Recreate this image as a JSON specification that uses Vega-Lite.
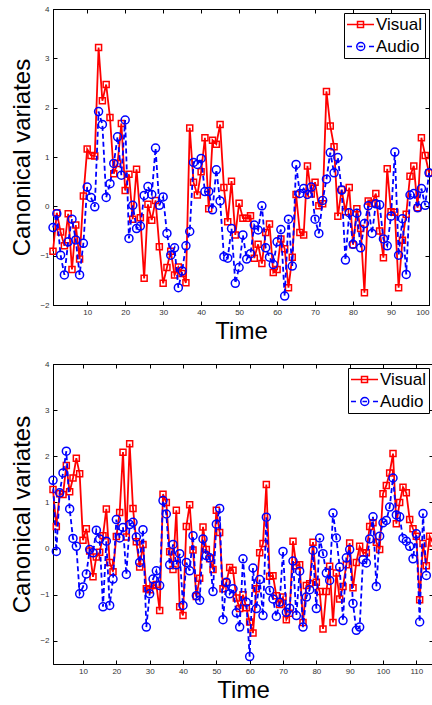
{
"$schema":"https://vega.github.io/schema/vega-lite/v6.json",
"padding":{"left":10,"top":4,"right":0,"bottom":0},
"spacing":15,
"resolve":{"scale":{"color":"independent","shape":"independent"}},
"config":{
 "view":{"stroke":"black","strokeWidth":1},
 "axis":{"grid":false,"domainColor":"black","tickColor":"black","tickSize":-4,"labelFont":"Liberation Sans","labelFontSize":8,"labelColor":"#333333","titleFont":"Liberation Sans","titleFontSize":24,"titleFontWeight":"normal","titleColor":"black"},
 "legend":{"orient":"top-right","offset":4,"fillColor":"white","strokeColor":"black","padding":3,"rowPadding":4,"labelFont":"Liberation Sans","labelFontSize":17,"labelColor":"black","symbolSize":36,"symbolStrokeWidth":1.5,"symbolOpacity":1,"labelOffset":12}
},
"datasets":{
"top":[
{"series":"Visual","time":1,"value":-0.91},{"series":"Visual","time":2,"value":-0.13},{"series":"Visual","time":3,"value":-0.52},{"series":"Visual","time":4,"value":-0.80},{"series":"Visual","time":5,"value":-0.15},{"series":"Visual","time":6,"value":-1.28},{"series":"Visual","time":7,"value":-0.38},{"series":"Visual","time":8,"value":-1.07},{"series":"Visual","time":9,"value":0.21},{"series":"Visual","time":10,"value":1.16},
{"series":"Visual","time":11,"value":1.03},{"series":"Visual","time":12,"value":1.02},{"series":"Visual","time":13,"value":3.22},{"series":"Visual","time":14,"value":2.14},{"series":"Visual","time":15,"value":2.47},{"series":"Visual","time":16,"value":1.80},{"series":"Visual","time":17,"value":0.66},{"series":"Visual","time":18,"value":0.87},{"series":"Visual","time":19,"value":1.68},{"series":"Visual","time":20,"value":0.32},
{"series":"Visual","time":21,"value":0.65},{"series":"Visual","time":22,"value":-0.26},{"series":"Visual","time":23,"value":0.75},{"series":"Visual","time":24,"value":-0.23},{"series":"Visual","time":25,"value":-1.46},{"series":"Visual","time":26,"value":0.04},{"series":"Visual","time":27,"value":-0.28},{"series":"Visual","time":28,"value":0.12},{"series":"Visual","time":29,"value":-0.82},{"series":"Visual","time":30,"value":-1.56},
{"series":"Visual","time":31,"value":-1.24},{"series":"Visual","time":32,"value":-0.91},{"series":"Visual","time":33,"value":-1.39},{"series":"Visual","time":34,"value":-1.23},{"series":"Visual","time":35,"value":-1.36},{"series":"Visual","time":36,"value":-1.55},{"series":"Visual","time":37,"value":1.59},{"series":"Visual","time":38,"value":0.49},{"series":"Visual","time":39,"value":0.23},{"series":"Visual","time":40,"value":0.70},
{"series":"Visual","time":41,"value":1.39},{"series":"Visual","time":42,"value":-0.05},{"series":"Visual","time":43,"value":1.34},{"series":"Visual","time":44,"value":1.26},{"series":"Visual","time":45,"value":1.66},{"series":"Visual","time":46,"value":0.38},{"series":"Visual","time":47,"value":-0.31},{"series":"Visual","time":48,"value":0.51},{"series":"Visual","time":49,"value":-0.58},{"series":"Visual","time":50,"value":0.06},
{"series":"Visual","time":51,"value":-0.24},{"series":"Visual","time":52,"value":-0.24},{"series":"Visual","time":53,"value":-0.19},{"series":"Visual","time":54,"value":-1.05},{"series":"Visual","time":55,"value":-0.77},{"series":"Visual","time":56,"value":-1.16},{"series":"Visual","time":57,"value":-0.53},{"series":"Visual","time":58,"value":-0.36},{"series":"Visual","time":59,"value":-1.34},{"series":"Visual","time":60,"value":-1.28},
{"series":"Visual","time":61,"value":-0.66},{"series":"Visual","time":62,"value":-0.86},{"series":"Visual","time":63,"value":-1.65},{"series":"Visual","time":64,"value":-1.03},{"series":"Visual","time":65,"value":0.24},{"series":"Visual","time":66,"value":-0.53},{"series":"Visual","time":67,"value":-0.58},{"series":"Visual","time":68,"value":0.82},{"series":"Visual","time":69,"value":0.25},{"series":"Visual","time":70,"value":0.49},
{"series":"Visual","time":71,"value":0.01},{"series":"Visual","time":72,"value":0.05},{"series":"Visual","time":73,"value":2.33},{"series":"Visual","time":74,"value":1.63},{"series":"Visual","time":75,"value":1.21},{"series":"Visual","time":76,"value":-0.20},{"series":"Visual","time":77,"value":0.34},{"series":"Visual","time":78,"value":-0.11},{"series":"Visual","time":79,"value":0.38},{"series":"Visual","time":80,"value":-0.78},
{"series":"Visual","time":81,"value":-0.05},{"series":"Visual","time":82,"value":-0.45},{"series":"Visual","time":83,"value":-1.75},{"series":"Visual","time":84,"value":0.11},{"series":"Visual","time":85,"value":0.06},{"series":"Visual","time":86,"value":0.26},{"series":"Visual","time":87,"value":-0.50},{"series":"Visual","time":88,"value":-1.04},{"series":"Visual","time":89,"value":0.76},{"series":"Visual","time":90,"value":-0.11},
{"series":"Visual","time":91,"value":-0.12},{"series":"Visual","time":92,"value":-1.65},{"series":"Visual","time":93,"value":-0.69},{"series":"Visual","time":94,"value":-0.16},{"series":"Visual","time":95,"value":0.61},{"series":"Visual","time":96,"value":0.82},{"series":"Visual","time":97,"value":-0.03},{"series":"Visual","time":98,"value":1.39},{"series":"Visual","time":99,"value":1.03},{"series":"Visual","time":100,"value":0.68},
{"series":"Audio","time":1,"value":-0.43},{"series":"Audio","time":2,"value":-0.15},{"series":"Audio","time":3,"value":-0.99},{"series":"Audio","time":4,"value":-1.39},{"series":"Audio","time":5,"value":-0.72},{"series":"Audio","time":6,"value":-0.26},{"series":"Audio","time":7,"value":-0.68},{"series":"Audio","time":8,"value":-1.39},{"series":"Audio","time":9,"value":-0.75},{"series":"Audio","time":10,"value":0.39},
{"series":"Audio","time":11,"value":0.18},{"series":"Audio","time":12,"value":-0.01},{"series":"Audio","time":13,"value":1.92},{"series":"Audio","time":14,"value":1.66},{"series":"Audio","time":15,"value":0.18},{"series":"Audio","time":16,"value":0.46},{"series":"Audio","time":17,"value":0.87},{"series":"Audio","time":18,"value":1.41},{"series":"Audio","time":19,"value":0.63},{"series":"Audio","time":20,"value":1.75},
{"series":"Audio","time":21,"value":-0.65},{"series":"Audio","time":22,"value":0.02},{"series":"Audio","time":23,"value":-0.45},{"series":"Audio","time":24,"value":-0.40},{"series":"Audio","time":25,"value":0.22},{"series":"Audio","time":26,"value":0.40},{"series":"Audio","time":27,"value":0.24},{"series":"Audio","time":28,"value":1.18},{"series":"Audio","time":29,"value":0.02},{"series":"Audio","time":30,"value":0.19},
{"series":"Audio","time":31,"value":-0.55},{"series":"Audio","time":32,"value":-0.99},{"series":"Audio","time":33,"value":-0.84},{"series":"Audio","time":34,"value":-1.65},{"series":"Audio","time":35,"value":-1.31},{"series":"Audio","time":36,"value":-0.80},{"series":"Audio","time":37,"value":-0.51},{"series":"Audio","time":38,"value":0.89},{"series":"Audio","time":39,"value":0.85},{"series":"Audio","time":40,"value":0.97},
{"series":"Audio","time":41,"value":0.30},{"series":"Audio","time":42,"value":0.30},{"series":"Audio","time":43,"value":-0.07},{"series":"Audio","time":44,"value":0.74},{"series":"Audio","time":45,"value":0.11},{"series":"Audio","time":46,"value":-1.02},{"series":"Audio","time":47,"value":-1.05},{"series":"Audio","time":48,"value":-0.45},{"series":"Audio","time":49,"value":-1.56},{"series":"Audio","time":50,"value":-1.24},
{"series":"Audio","time":51,"value":-0.58},{"series":"Audio","time":52,"value":-1.07},{"series":"Audio","time":53,"value":-0.96},{"series":"Audio","time":54,"value":-0.38},{"series":"Audio","time":55,"value":-0.48},{"series":"Audio","time":56,"value":0.01},{"series":"Audio","time":57,"value":-0.84},{"series":"Audio","time":58,"value":-1.03},{"series":"Audio","time":59,"value":-1.18},{"series":"Audio","time":60,"value":-0.72},
{"series":"Audio","time":61,"value":-0.47},{"series":"Audio","time":62,"value":-1.82},{"series":"Audio","time":63,"value":-0.26},{"series":"Audio","time":64,"value":-1.21},{"series":"Audio","time":65,"value":0.85},{"series":"Audio","time":66,"value":0.26},{"series":"Audio","time":67,"value":0.36},{"series":"Audio","time":68,"value":0.24},{"series":"Audio","time":69,"value":0.39},{"series":"Audio","time":70,"value":-0.26},
{"series":"Audio","time":71,"value":-0.55},{"series":"Audio","time":72,"value":0.12},{"series":"Audio","time":73,"value":0.55},{"series":"Audio","time":74,"value":1.09},{"series":"Audio","time":75,"value":0.68},{"series":"Audio","time":76,"value":0.99},{"series":"Audio","time":77,"value":0.33},{"series":"Audio","time":78,"value":-1.09},{"series":"Audio","time":79,"value":-0.13},{"series":"Audio","time":80,"value":-0.77},
{"series":"Audio","time":81,"value":-0.14},{"series":"Audio","time":82,"value":-0.84},{"series":"Audio","time":83,"value":-0.35},{"series":"Audio","time":84,"value":0.01},{"series":"Audio","time":85,"value":-0.55},{"series":"Audio","time":86,"value":0.05},{"series":"Audio","time":87,"value":0.03},{"series":"Audio","time":88,"value":-0.66},{"series":"Audio","time":89,"value":-0.80},{"series":"Audio","time":90,"value":-0.20},
{"series":"Audio","time":91,"value":1.10},{"series":"Audio","time":92,"value":-0.99},{"series":"Audio","time":93,"value":-0.25},{"series":"Audio","time":94,"value":-1.38},{"series":"Audio","time":95,"value":0.23},{"series":"Audio","time":96,"value":0.26},{"series":"Audio","time":97,"value":-0.03},{"series":"Audio","time":98,"value":0.36},{"series":"Audio","time":99,"value":0.02},{"series":"Audio","time":100,"value":0.68}
],
"bottom":[
{"series":"Visual","time":1,"value":1.28},{"series":"Visual","time":2,"value":0.48},{"series":"Visual","time":3,"value":1.19},{"series":"Visual","time":4,"value":1.17},{"series":"Visual","time":5,"value":1.80},{"series":"Visual","time":6,"value":1.23},{"series":"Visual","time":7,"value":1.53},{"series":"Visual","time":8,"value":1.96},{"series":"Visual","time":9,"value":1.62},{"series":"Visual","time":10,"value":0.18},
{"series":"Visual","time":11,"value":0.43},{"series":"Visual","time":12,"value":-0.05},{"series":"Visual","time":13,"value":-0.61},{"series":"Visual","time":14,"value":-0.18},{"series":"Visual","time":15,"value":-0.08},{"series":"Visual","time":16,"value":0.28},{"series":"Visual","time":17,"value":0.86},{"series":"Visual","time":18,"value":-0.30},{"series":"Visual","time":19,"value":-0.50},{"series":"Visual","time":20,"value":0.26},
{"series":"Visual","time":21,"value":0.78},{"series":"Visual","time":22,"value":2.09},{"series":"Visual","time":23,"value":0.25},{"series":"Visual","time":24,"value":2.27},{"series":"Visual","time":25,"value":0.87},{"series":"Visual","time":26,"value":0.15},{"series":"Visual","time":27,"value":-0.40},{"series":"Visual","time":28,"value":0.09},{"series":"Visual","time":29,"value":-0.87},{"series":"Visual","time":30,"value":-0.89},
{"series":"Visual","time":31,"value":-0.80},{"series":"Visual","time":32,"value":-0.78},{"series":"Visual","time":33,"value":-1.34},{"series":"Visual","time":34,"value":1.18},{"series":"Visual","time":35,"value":1.00},{"series":"Visual","time":36,"value":-0.07},{"series":"Visual","time":37,"value":-0.45},{"series":"Visual","time":38,"value":0.83},{"series":"Visual","time":39,"value":-1.26},{"series":"Visual","time":40,"value":-1.45},
{"series":"Visual","time":41,"value":0.48},{"series":"Visual","time":42,"value":0.95},{"series":"Visual","time":43,"value":-0.03},{"series":"Visual","time":44,"value":-1.04},{"series":"Visual","time":45,"value":-0.64},{"series":"Visual","time":46,"value":0.47},{"series":"Visual","time":47,"value":-0.02},{"series":"Visual","time":48,"value":-0.22},{"series":"Visual","time":49,"value":-0.45},{"series":"Visual","time":50,"value":0.83},
{"series":"Visual","time":51,"value":0.35},{"series":"Visual","time":52,"value":-0.87},{"series":"Visual","time":53,"value":-0.73},{"series":"Visual","time":54,"value":-0.41},{"series":"Visual","time":55,"value":-0.47},{"series":"Visual","time":56,"value":-1.07},{"series":"Visual","time":57,"value":-1.30},{"series":"Visual","time":58,"value":-1.00},{"series":"Visual","time":59,"value":-1.28},{"series":"Visual","time":60,"value":-1.59},
{"series":"Visual","time":61,"value":-1.83},{"series":"Visual","time":62,"value":-0.87},{"series":"Visual","time":63,"value":-0.09},{"series":"Visual","time":64,"value":0.11},{"series":"Visual","time":65,"value":1.39},{"series":"Visual","time":66,"value":-0.60},{"series":"Visual","time":67,"value":-0.59},{"series":"Visual","time":68,"value":-1.02},{"series":"Visual","time":69,"value":-1.21},{"series":"Visual","time":70,"value":-1.05},
{"series":"Visual","time":71,"value":-1.54},{"series":"Visual","time":72,"value":-1.40},{"series":"Visual","time":73,"value":0.16},{"series":"Visual","time":74,"value":-0.37},{"series":"Visual","time":75,"value":-0.35},{"series":"Visual","time":76,"value":-1.60},{"series":"Visual","time":77,"value":-0.80},{"series":"Visual","time":78,"value":-0.76},{"series":"Visual","time":79,"value":0.14},{"series":"Visual","time":80,"value":-0.73},
{"series":"Visual","time":81,"value":-0.93},{"series":"Visual","time":82,"value":-1.74},{"series":"Visual","time":83,"value":-0.93},{"series":"Visual","time":84,"value":-0.38},{"series":"Visual","time":85,"value":-1.60},{"series":"Visual","time":86,"value":-0.53},{"series":"Visual","time":87,"value":-1.09},{"series":"Visual","time":88,"value":-0.82},{"series":"Visual","time":89,"value":-0.35},{"series":"Visual","time":90,"value":0.12},
{"series":"Visual","time":91,"value":-0.85},{"series":"Visual","time":92,"value":-0.30},{"series":"Visual","time":93,"value":0.05},{"series":"Visual","time":94,"value":-0.09},{"series":"Visual","time":95,"value":-0.09},{"series":"Visual","time":96,"value":0.48},{"series":"Visual","time":97,"value":0.56},{"series":"Visual","time":98,"value":0.14},{"series":"Visual","time":99,"value":-0.02},{"series":"Visual","time":100,"value":1.19},
{"series":"Visual","time":101,"value":1.37},{"series":"Visual","time":102,"value":1.64},{"series":"Visual","time":103,"value":2.06},{"series":"Visual","time":104,"value":0.54},{"series":"Visual","time":105,"value":1.00},{"series":"Visual","time":106,"value":1.33},{"series":"Visual","time":107,"value":1.21},{"series":"Visual","time":108,"value":0.63},{"series":"Visual","time":109,"value":0.43},{"series":"Visual","time":110,"value":0.27},
{"series":"Visual","time":111,"value":-1.11},{"series":"Visual","time":112,"value":0.11},{"series":"Visual","time":113,"value":-0.37},{"series":"Visual","time":114,"value":0.27},{"series":"Visual","time":115,"value":0.12},
{"series":"Audio","time":1,"value":1.48},{"series":"Audio","time":2,"value":-0.06},{"series":"Audio","time":3,"value":1.21},{"series":"Audio","time":4,"value":1.64},{"series":"Audio","time":5,"value":2.11},{"series":"Audio","time":6,"value":0.86},{"series":"Audio","time":7,"value":0.22},{"series":"Audio","time":8,"value":0.05},{"series":"Audio","time":9,"value":-0.98},{"series":"Audio","time":10,"value":-0.83},
{"series":"Audio","time":11,"value":-0.55},{"series":"Audio","time":12,"value":-0.02},{"series":"Audio","time":13,"value":-0.09},{"series":"Audio","time":14,"value":0.40},{"series":"Audio","time":15,"value":0.21},{"series":"Audio","time":16,"value":-1.26},{"series":"Audio","time":17,"value":0.16},{"series":"Audio","time":18,"value":-1.23},{"series":"Audio","time":19,"value":-0.66},{"series":"Audio","time":20,"value":0.63},
{"series":"Audio","time":21,"value":0.23},{"series":"Audio","time":22,"value":0.46},{"series":"Audio","time":23,"value":-0.56},{"series":"Audio","time":24,"value":0.52},{"series":"Audio","time":25,"value":0.57},{"series":"Audio","time":26,"value":0.25},{"series":"Audio","time":27,"value":-0.30},{"series":"Audio","time":28,"value":0.41},{"series":"Audio","time":29,"value":-1.70},{"series":"Audio","time":30,"value":-0.98},
{"series":"Audio","time":31,"value":-0.66},{"series":"Audio","time":32,"value":-0.48},{"series":"Audio","time":33,"value":-0.80},{"series":"Audio","time":34,"value":1.04},{"series":"Audio","time":35,"value":0.75},{"series":"Audio","time":36,"value":-0.35},{"series":"Audio","time":37,"value":0.09},{"series":"Audio","time":38,"value":-0.35},{"series":"Audio","time":39,"value":-0.11},{"series":"Audio","time":40,"value":-1.23},
{"series":"Audio","time":41,"value":-0.30},{"series":"Audio","time":42,"value":-0.48},{"series":"Audio","time":43,"value":0.28},{"series":"Audio","time":44,"value":-1.02},{"series":"Audio","time":45,"value":-1.12},{"series":"Audio","time":46,"value":0.21},{"series":"Audio","time":47,"value":-0.15},{"series":"Audio","time":48,"value":-0.20},{"series":"Audio","time":49,"value":-0.93},{"series":"Audio","time":50,"value":0.53},
{"series":"Audio","time":51,"value":0.87},{"series":"Audio","time":52,"value":-1.54},{"series":"Audio","time":53,"value":-0.73},{"series":"Audio","time":54,"value":-0.98},{"series":"Audio","time":55,"value":-0.87},{"series":"Audio","time":56,"value":-1.39},{"series":"Audio","time":57,"value":-1.70},{"series":"Audio","time":58,"value":-0.22},{"series":"Audio","time":59,"value":-1.16},{"series":"Audio","time":60,"value":-2.34},
{"series":"Audio","time":61,"value":-0.42},{"series":"Audio","time":62,"value":-1.30},{"series":"Audio","time":63,"value":-0.67},{"series":"Audio","time":64,"value":-1.45},{"series":"Audio","time":65,"value":0.68},{"series":"Audio","time":66,"value":-0.91},{"series":"Audio","time":67,"value":-1.09},{"series":"Audio","time":68,"value":-1.47},{"series":"Audio","time":69,"value":-1.16},{"series":"Audio","time":70,"value":-0.06},
{"series":"Audio","time":71,"value":-1.38},{"series":"Audio","time":72,"value":-1.29},{"series":"Audio","time":73,"value":-0.27},{"series":"Audio","time":74,"value":-1.45},{"series":"Audio","time":75,"value":-0.49},{"series":"Audio","time":76,"value":-1.70},{"series":"Audio","time":77,"value":-1.05},{"series":"Audio","time":78,"value":-0.89},{"series":"Audio","time":79,"value":-0.04},{"series":"Audio","time":80,"value":-1.30},
{"series":"Audio","time":81,"value":0.23},{"series":"Audio","time":82,"value":-0.11},{"series":"Audio","time":83,"value":-0.53},{"series":"Audio","time":84,"value":-0.69},{"series":"Audio","time":85,"value":0.77},{"series":"Audio","time":86,"value":0.23},{"series":"Audio","time":87,"value":-0.40},{"series":"Audio","time":88,"value":-1.56},{"series":"Audio","time":89,"value":-0.20},{"series":"Audio","time":90,"value":-0.02},
{"series":"Audio","time":91,"value":-1.19},{"series":"Audio","time":92,"value":-1.77},{"series":"Audio","time":93,"value":-1.70},{"series":"Audio","time":94,"value":-0.24},{"series":"Audio","time":95,"value":-0.31},{"series":"Audio","time":96,"value":0.21},{"series":"Audio","time":97,"value":0.69},{"series":"Audio","time":98,"value":-0.82},{"series":"Audio","time":99,"value":0.27},{"series":"Audio","time":100,"value":0.56},
{"series":"Audio","time":101,"value":0.61},{"series":"Audio","time":102,"value":0.90},{"series":"Audio","time":103,"value":1.53},{"series":"Audio","time":104,"value":0.73},{"series":"Audio","time":105,"value":0.69},{"series":"Audio","time":106,"value":0.22},{"series":"Audio","time":107,"value":0.16},{"series":"Audio","time":108,"value":0.05},{"series":"Audio","time":109,"value":-0.22},{"series":"Audio","time":110,"value":0.32},
{"series":"Audio","time":111,"value":-1.59},{"series":"Audio","time":112,"value":0.76},{"series":"Audio","time":113,"value":-0.58}
]
},
"vconcat":[
{
 "width":376,"height":296,
 "data":{"name":"top"},
 "resolve":{"axis":{"x":"independent","y":"independent"}},
 "encoding":{
  "x":{"field":"time","type":"quantitative","scale":{"domain":[1,100],"nice":false,"zero":false}},
  "y":{"field":"value","type":"quantitative","scale":{"domain":[-2,4],"nice":false,"zero":false}},
  "color":{"field":"series","type":"nominal","scale":{"domain":["Visual","Audio"],"range":["#ff0000","#0000ff"]},"legend":{"title":null}}
 },
 "layer":[
  {"transform":[{"filter":"datum.series === 'Visual'"}],"mark":{"type":"line","strokeWidth":1.8},
   "encoding":{"x":{"field":"time","type":"quantitative","axis":{"orient":"bottom","title":"Time","values":[10,20,30,40,50,60,70,80,90,100],"labelPadding":7,"titlePadding":3}},
   "y":{"field":"value","type":"quantitative","axis":{"orient":"left","title":"Canonical variates","values":[-2,-1,0,1,2,3,4],"labelPadding":8,"titlePadding":5}}}},
  {"transform":[{"filter":"datum.series === 'Visual'"}],"mark":{"type":"point","shape":"square","filled":false,"size":36,"strokeWidth":1.5,"opacity":1},
   "encoding":{"x":{"field":"time","type":"quantitative","axis":{"orient":"top","title":null,"labels":false,"values":[10,20,30,40,50,60,70,80,90,100]}},
   "y":{"field":"value","type":"quantitative","axis":{"orient":"right","title":null,"labels":false,"values":[-2,-1,0,1,2,3,4]}}}},
  {"transform":[{"filter":"datum.series === 'Audio'"}],"mark":{"type":"line","strokeWidth":1.8,"strokeDash":[5,3]},
   "encoding":{"x":{"field":"time","type":"quantitative","axis":null},"y":{"field":"value","type":"quantitative","axis":null}}},
  {"transform":[{"filter":"datum.series === 'Audio'"}],"mark":{"type":"point","shape":"circle","filled":false,"size":64,"strokeWidth":1.5,"opacity":1},
   "encoding":{"x":{"field":"time","type":"quantitative","axis":null},"y":{"field":"value","type":"quantitative","axis":null}}},
  {"mark":{"type":"point","filled":false,"size":36,"opacity":0},
   "encoding":{"x":{"field":"time","type":"quantitative","axis":null},"y":{"field":"value","type":"quantitative","axis":null},
   "shape":{"field":"series","type":"nominal","scale":{"domain":["Visual","Audio"],"range":["M-2.83,0H6.17M0.67,-1H2.67V1H0.67Z","M-2.83,0H-1.17M1,0H2.5M4.5,0H6.17M0.42,0A1.33,1.33 0 1,0 3.08,0A1.33,1.33 0 1,0 0.42,0Z"]},"legend":{"title":null}}}}
 ]
},
{
 "width":380,"height":300,
 "data":{"name":"bottom"},
 "resolve":{"axis":{"x":"independent","y":"independent"}},
 "encoding":{
  "x":{"field":"time","type":"quantitative","scale":{"domain":[1,115],"nice":false,"zero":false}},
  "y":{"field":"value","type":"quantitative","scale":{"domain":[-2.5,4],"nice":false,"zero":false}},
  "color":{"field":"series","type":"nominal","scale":{"domain":["Visual","Audio"],"range":["#ff0000","#0000ff"]},"legend":{"title":null}}
 },
 "layer":[
  {"transform":[{"filter":"datum.series === 'Visual'"}],"mark":{"type":"line","strokeWidth":1.8},
   "encoding":{"x":{"field":"time","type":"quantitative","axis":{"orient":"bottom","title":"Time","values":[10,20,30,40,50,60,70,80,90,100,110],"labelPadding":7,"titlePadding":3}},
   "y":{"field":"value","type":"quantitative","axis":{"orient":"left","title":"Canonical variates","values":[-2,-1,0,1,2,3,4],"labelPadding":8,"titlePadding":5}}}},
  {"transform":[{"filter":"datum.series === 'Visual'"}],"mark":{"type":"point","shape":"square","filled":false,"size":36,"strokeWidth":1.5,"opacity":1},
   "encoding":{"x":{"field":"time","type":"quantitative","axis":{"orient":"top","title":null,"labels":false,"values":[10,20,30,40,50,60,70,80,90,100,110]}},
   "y":{"field":"value","type":"quantitative","axis":{"orient":"right","title":null,"labels":false,"values":[-2,-1,0,1,2,3,4]}}}},
  {"transform":[{"filter":"datum.series === 'Audio'"}],"mark":{"type":"line","strokeWidth":1.8,"strokeDash":[5,3]},
   "encoding":{"x":{"field":"time","type":"quantitative","axis":null},"y":{"field":"value","type":"quantitative","axis":null}}},
  {"transform":[{"filter":"datum.series === 'Audio'"}],"mark":{"type":"point","shape":"circle","filled":false,"size":64,"strokeWidth":1.5,"opacity":1},
   "encoding":{"x":{"field":"time","type":"quantitative","axis":null},"y":{"field":"value","type":"quantitative","axis":null}}},
  {"mark":{"type":"point","filled":false,"size":36,"opacity":0},
   "encoding":{"x":{"field":"time","type":"quantitative","axis":null},"y":{"field":"value","type":"quantitative","axis":null},
   "shape":{"field":"series","type":"nominal","scale":{"domain":["Visual","Audio"],"range":["M-2.83,0H6.17M0.67,-1H2.67V1H0.67Z","M-2.83,0H-1.17M1,0H2.5M4.5,0H6.17M0.42,0A1.33,1.33 0 1,0 3.08,0A1.33,1.33 0 1,0 0.42,0Z"]},"legend":{"title":null}}}}
 ]
}
]
}
